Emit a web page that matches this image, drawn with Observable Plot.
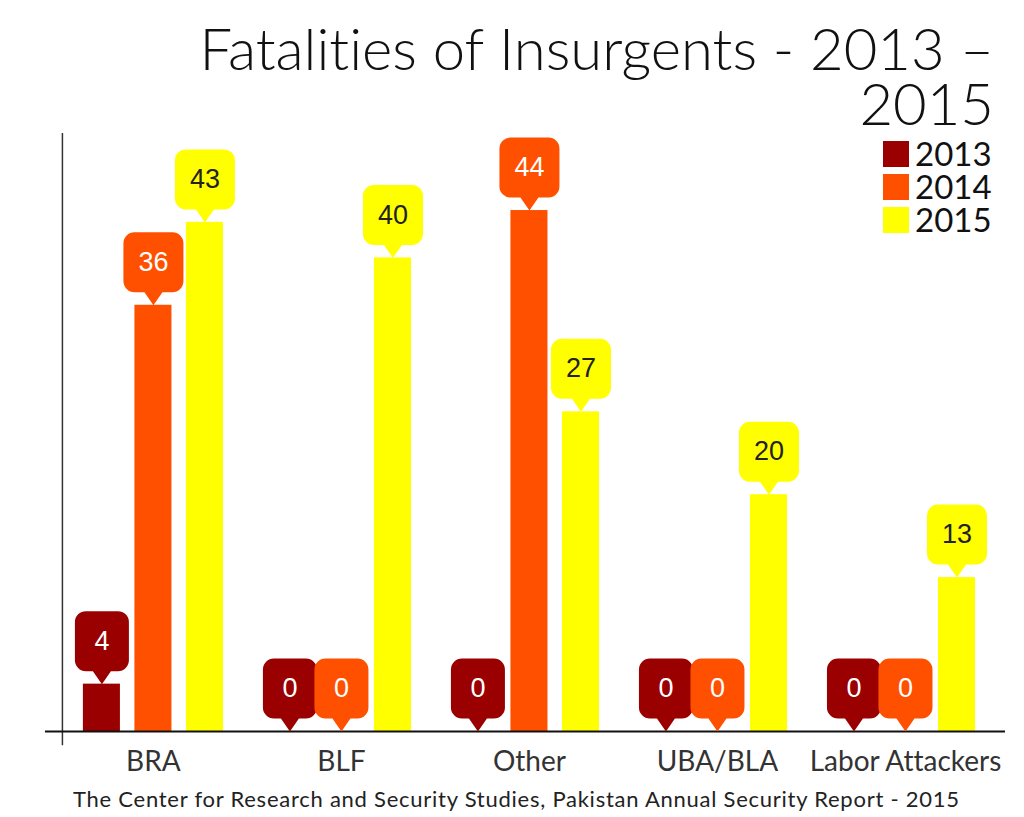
<!DOCTYPE html>
<html>
<head>
<meta charset="utf-8">
<script src="https://cdn.jsdelivr.net/npm/d3@7"></script>
<script src="https://cdn.jsdelivr.net/npm/@observablehq/plot@0.6"></script>
<style>
  html, body { margin: 0; padding: 0; background: #fff; }
  #wrap { position: relative; width: 1024px; height: 817px; overflow: hidden; font-family: Lato, "Noto Sans", sans-serif; font-variant-ligatures: none; }
  #title { position: absolute; top: 20px; right: 30px; text-align: right; font-size: 58px; font-weight: 300; color: #111; white-space: nowrap; }
  #title div { height: 55px; line-height: 55px; }
  #chart { position: absolute; top: 133px; left: 0; }
  #legend { position: absolute; left: 883px; top: 137px; }
  .lg { display: flex; align-items: center; height: 33px; font-size: 33px; color: #111; }
  .lg span { display: block; height: 33px; line-height: 33px; }
  .sw { width: 26px; height: 26px; margin-right: 6px; }
  #caption { position: absolute; left: 73px; top: 785px; font-size: 22px; letter-spacing: 0.75px; color: #222; white-space: nowrap; }
</style>
</head>
<body>
<div id="wrap">
  <div id="title"></div>
  <div id="chart"></div>
  <div id="legend"></div>
  <div id="caption"></div>
</div>
<script>
const titleLines = ["Fatalities of Insurgents - 2013 –", "2015"];
const captionText = "The Center for Research and Security Studies, Pakistan Annual Security Report - 2015";
const categories = ["BRA", "BLF", "Other", "UBA/BLA", "Labor Attackers"];
const years = ["2013", "2014", "2015"];
const values2013 = [4, 0, 0, 0, 0];
const values2014 = [36, 0, 44, 0, 0];
const values2015 = [43, 40, 27, 20, 13];
const colors = ["#9b0000", "#ff5000", "#ffff00"];

const series = [values2013, values2014, values2015];
const rows = categories.flatMap((cat, i) =>
  years.map((year, j) => ({cat, i, year, j, value: series[j][i]}))
);

// layout within a category slot (units of one category step)
const step = 0.274, half = 0.0985;
const xc = d => d.i + (d.j - 1) * step;

// callout symbol: tip at origin, rounded box above
const callout = {
  draw(ctx, size) {
    const hw = Math.sqrt(size / Math.PI);
    const ph = 13, pw = 9, yb = -ph, yt = -ph - 60, rr = 11;
    ctx.moveTo(0, 0);
    ctx.lineTo(-pw, yb);
    ctx.lineTo(-hw + rr, yb);
    ctx.arcTo(-hw, yb, -hw, yb - rr, rr);
    ctx.lineTo(-hw, yt + rr);
    ctx.arcTo(-hw, yt, -hw + rr, yt, rr);
    ctx.lineTo(hw - rr, yt);
    ctx.arcTo(hw, yt, hw, yt + rr, rr);
    ctx.lineTo(hw, yb - rr);
    ctx.arcTo(hw, yb, hw - rr, yb, rr);
    ctx.lineTo(pw, yb);
    ctx.closePath();
  }
};

const oneDigit = rows.filter(d => String(d.value).length === 1);
const twoDigit = rows.filter(d => String(d.value).length > 1);

const chart = Plot.plot({
  width: 1024,
  height: 650,
  marginLeft: 45,
  marginRight: 19,
  marginTop: 6,
  marginBottom: 52,
  x: {type: "linear", domain: [-0.574, 4.532], axis: null},
  y: {type: "linear", domain: [0, 50], axis: null},
  color: {domain: years, range: colors},
  style: {background: "transparent"},
  marks: [
    Plot.ruleX([-0.484], {x: d => d, y1: -1.2, y2: 50.5, stroke: "#333", strokeWidth: 1.5}),
    Plot.rectY(rows, {x1: d => xc(d) - half, x2: d => xc(d) + half, y1: 0, y2: "value", fill: "year"}),
    Plot.ruleY([0], {stroke: "#111", strokeWidth: 2}),
    Plot.dot(oneDigit, {x: xc, y: "value", symbol: callout, r: 27, fill: "year", stroke: "none"}),
    Plot.dot(twoDigit, {x: xc, y: "value", symbol: callout, r: 30, fill: "year", stroke: "none"}),
    Plot.text(rows.filter(d => d.j < 2), {x: xc, y: "value", text: d => String(d.value), dy: -43, fill: "#fff", fontSize: 27, fontFamily: "Liberation Sans, Arial, sans-serif"}),
    Plot.text(rows.filter(d => d.j === 2), {x: xc, y: "value", text: d => String(d.value), dy: -43, fill: "#222", fontSize: 27, fontFamily: "Liberation Sans, Arial, sans-serif"}),
    Plot.text(categories, {x: (d, i) => i, y: () => 0, text: d => d, dy: 31, fontSize: 28, fill: "#333", fontFamily: "Lato, sans-serif"})
  ]
});
document.getElementById("chart").appendChild(chart);

document.getElementById("title").innerHTML = titleLines.map(t => `<div>${t}</div>`).join("");
document.getElementById("caption").textContent = captionText;
const legend = document.getElementById("legend");
years.forEach((y, j) => {
  const row = document.createElement("div");
  row.className = "lg";
  row.innerHTML = `<div class="sw" style="background:${colors[j]}"></div><span>${y}</span>`;
  legend.appendChild(row);
});
</script>
</body>
</html>
